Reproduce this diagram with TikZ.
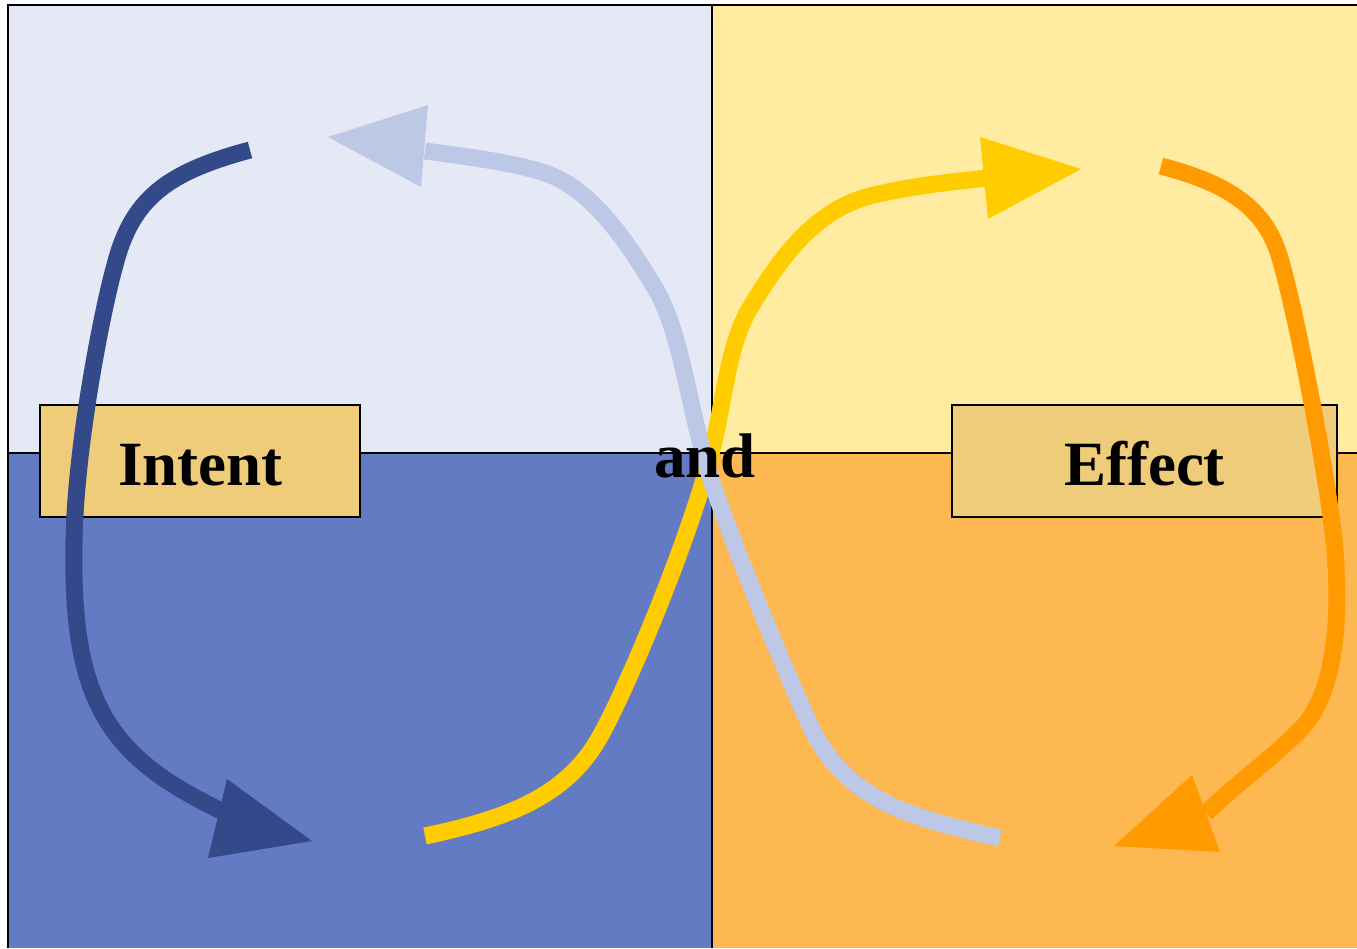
\documentclass[tikz,border=0pt]{standalone}
\usepackage{fontspec}
\setmainfont{Liberation Serif}
\definecolor{tlfill}{HTML}{E4E9F5}
\definecolor{trfill}{HTML}{FFECA1}
\definecolor{blfill}{HTML}{637BC3}
\definecolor{brfill}{HTML}{FEB851}
\definecolor{labfill}{HTML}{EECC79}
\definecolor{deepblue}{HTML}{34498A}
\definecolor{paleblue}{HTML}{BDC7E6}
\definecolor{gold}{HTML}{FFCC00}
\definecolor{amber}{HTML}{FF9A00}
\begin{document}
\begin{tikzpicture}[x=1pt,y=-1pt,
  frame/.style={draw=black,line width=1.5pt},
  labelbox/.style={draw=black,line width=1.3pt,fill=labfill,minimum width=320pt,minimum height=112pt,inner sep=0pt},
  labeltext/.style={font=\fontsize{63}{70}\selectfont\bfseries,inner sep=0pt,anchor=base},
  flow/.style={line width=17pt,line cap=butt,line join=round}]
\useasboundingbox (0,0) rectangle (1357,948);
\clip (0,0) rectangle (1357,948);

% four quadrants
\fill[tlfill] (8,5) rectangle (712,453);
\fill[trfill] (712,5) rectangle (1357,453);
\fill[blfill] (8,453) rectangle (712,948);
\fill[brfill] (712,453) rectangle (1357,948);
\draw[frame] (8,948) -- (8,5) -- (1357,5);
\draw[frame] (712,5) -- (712,948);
\draw[frame] (8,453) -- (1357,453);

% label boxes
\node[labelbox] (intentbox) at (200,461) {};
\node[labelbox,minimum width=385pt] (effectbox) at (1144.5,461) {};
\node[labeltext] (intenttext) at (200.5,485) {Intent};
\node[labeltext] (effecttext) at (1144.5,485) {Effect};

% dark blue loop (left)
\coordinate (dbStart) at (250,150);
\coordinate (dbEnd) at (225,813);
\draw[flow,deepblue] (dbStart)
  .. controls (168,172) and (132,198) .. (115,265)
  .. controls (104,303) and (76,440) .. (74,540)
  .. controls (72,640) and (85,700) .. (125,745)
  .. controls (155,778) and (190,795) .. (dbEnd);
\fill[deepblue] (227,779) -- (312,841) -- (208,858) -- cycle;

% orange loop (right)
\coordinate (orStart) at (1161,166);
\coordinate (orEnd) at (1206,813);
\draw[flow,amber] (orStart)
  .. controls (1225,183) and (1262,205) .. (1278,252)
  .. controls (1292,293) and (1325,460) .. (1334,540)
  .. controls (1340,600) and (1340,690) .. (1300,730)
  .. controls (1270,760) and (1235,785) .. (orEnd);
\fill[amber] (1192,775) -- (1220,852) -- (1114,846) -- cycle;

% yellow crossing stroke
\coordinate (ylStart) at (425,836);
\coordinate (ylEnd) at (988,178);
\draw[flow,gold] (ylStart)
  .. controls (500,820) and (560,800) .. (595,745)
  .. controls (620,706) and (690,540) .. (712,450)
  .. controls (725,397) and (728,345) .. (750,308)
  .. controls (780,258) and (815,210) .. (870,196)
  .. controls (910,186) and (950,182) .. (ylEnd);
\fill[gold] (980,137) -- (1081,169) -- (988,219) -- cycle;

% pale blue crossing stroke
\coordinate (pbStart) at (1000,838);
\coordinate (pbEnd) at (425,151);
\draw[flow,paleblue] (pbStart)
  .. controls (910,818) and (845,800) .. (810,725)
  .. controls (789,680) and (722,520) .. (705,460)
  .. controls (688,400) and (680,330) .. (655,288)
  .. controls (625,238) and (590,188) .. (545,173)
  .. controls (515,163) and (470,157) .. (pbEnd);
\fill[paleblue] (428,105) -- (328,137) -- (421,187) -- cycle;

% centre word
\node[labeltext] (andtext) at (705,477) {and};
\end{tikzpicture}
\end{document}
